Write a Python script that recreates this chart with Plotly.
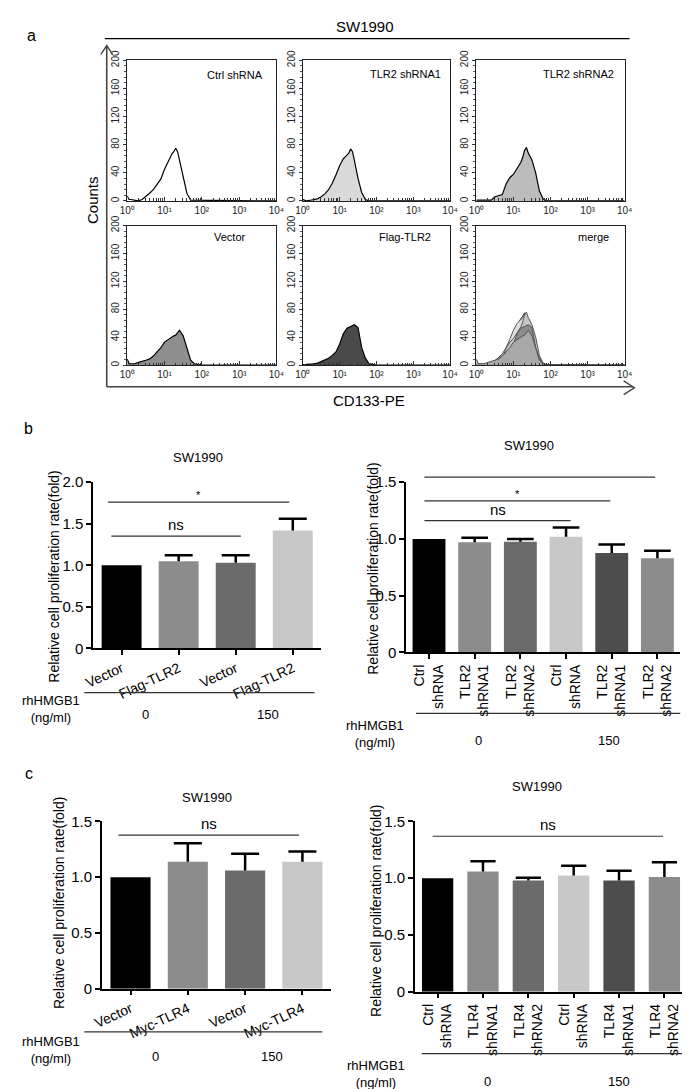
import plotly.graph_objects as go

W, H = 690, 1089
FONT = "Liberation Sans, Arial, sans-serif"

# ---------------- data: panel a (CD133-PE flow histograms) ----------------
cd133_log10 = [0.0, 0.05, 0.1, 0.2, 0.3, 0.4, 0.5, 0.6, 0.7, 0.8, 0.9, 1.0, 1.1, 1.2,
               1.25, 1.3, 1.35, 1.4, 1.5, 1.6, 1.7, 1.8, 1.9, 2.0, 2.5, 3.0, 3.5, 4.0]
counts_ctrl_shrna = [7, 2, 2, 1, 0, 2, 6, 11, 16, 23, 31, 45, 57, 67, 70, 75, 70, 58, 36, 11,
                     1, 1, 0, 1, 0, 0, 1, 0]
counts_tlr2_shrna1 = [2, 1, 0, 1, 2, 3, 6, 10, 16, 25, 37, 50, 60, 65, 68, 74, 70, 58, 32, 12,
                      2, 0, 0, 0, 0, 0, 0, 0]
counts_tlr2_shrna2 = [1, 1, 0, 1, 0, 1, 6, 7, 9, 24, 33, 38, 47, 55, 62, 72, 76, 68, 58, 40,
                      14, 3, 0, 0, 0, 0, 1, 0]
counts_vector = [9, 2, 2, 2, 4, 5, 7, 9, 13, 19, 25, 33, 37, 40, 42, 43, 46, 50, 42, 23,
                 7, 2, 1, 0, 0, 0, 0, 0]
counts_flag_tlr2 = [1, 0, 1, 1, 2, 3, 5, 7, 10, 14, 19, 30, 45, 53, 54, 55, 57, 58, 54, 25,
                    10, 2, 1, 0, 0, 0, 0, 0]
hist_names = ["Ctrl shRNA", "TLR2 shRNA1", "TLR2 shRNA2", "Vector", "Flag-TLR2", "merge"]
decade_ticks = [0, 1, 2, 3, 4]
decade_text = ["10\u2070", "10\u00b9", "10\u00b2", "10\u00b3", "10\u2074"]
count_ticks = [0, 40, 80, 120, 160, 200]

# ---------------- data: panels b and c (bar charts) ----------------
b_left_labels = ["Vector", "Flag-TLR2", "Vector", "Flag-TLR2"]
b_left_mean = [1.00, 1.05, 1.03, 1.42]
b_left_sem = [0.0, 0.07, 0.09, 0.14]

b_right_labels = ["Ctrl<br>shRNA", "TLR2<br>shRNA1", "TLR2<br>shRNA2",
                  "Ctrl<br>shRNA", "TLR2<br>shRNA1", "TLR2<br>shRNA2"]
b_right_mean = [1.00, 0.97, 0.975, 1.02, 0.875, 0.83]
b_right_sem = [0.0, 0.04, 0.025, 0.08, 0.075, 0.065]

c_left_labels = ["Vector", "Myc-TLR4", "Vector", "Myc-TLR4"]
c_left_mean = [1.00, 1.14, 1.06, 1.14]
c_left_sem = [0.0, 0.165, 0.15, 0.09]

c_right_labels = ["Ctrl<br>shRNA", "TLR4<br>shRNA1", "TLR4<br>shRNA2",
                  "Ctrl<br>shRNA", "TLR4<br>shRNA1", "TLR4<br>shRNA2"]
c_right_mean = [1.00, 1.06, 0.98, 1.025, 0.98, 1.01]
c_right_sem = [0.0, 0.09, 0.025, 0.085, 0.085, 0.13]

doses = ["0", "150"]
cell_line = "SW1990"

# significance brackets: (from bar, to bar, level, label)
b_left_sig = [(-0.24, 2.94, 1.76, "*"), (-0.18, 2.09, 1.35, "ns")]
b_right_sig = [(-0.1, 4.95, 1.544, "*"), (-0.1, 3.97, 1.336, "*"), (-0.1, 3.1, 1.162, "ns")]
c_left_sig = [(-0.21, 2.94, 1.377, "ns")]
c_right_sig = [(-0.11, 4.97, 1.37, "ns")]

# ---------------- helpers ----------------
def PX(x):
    return x / W


def PY(y):
    return 1 - y / H


fig = go.Figure()
layout = dict(width=W, height=H, autosize=False, margin=dict(l=0, r=0, t=0, b=0),
              paper_bgcolor="white", plot_bgcolor="white", showlegend=False,
              font=dict(family=FONT, color="black", size=12))
annotations = []
shapes = []


def ax_names(i):
    return ("xaxis" if i == 1 else f"xaxis{i}", "yaxis" if i == 1 else f"yaxis{i}",
            "x" if i == 1 else f"x{i}", "y" if i == 1 else f"y{i}")


def text(x, y, s, size=13, angle=0, xa="center"):
    annotations.append(dict(x=PX(x), y=PY(y), xref="paper", yref="paper", text=s,
                            showarrow=False, textangle=angle, xanchor=xa, yanchor="middle",
                            font=dict(size=size, family=FONT, color="black")))


def pline(x0, y0, x1, y1, w=1.2, color="black"):
    shapes.append(dict(type="line", xref="paper", yref="paper", x0=PX(x0), y0=PY(y0),
                       x1=PX(x1), y1=PY(y1), line=dict(color=color, width=w)))


# ---------------- panel a ----------------
hist_counts = [counts_ctrl_shrna, counts_tlr2_shrna1, counts_tlr2_shrna2,
               counts_vector, counts_flag_tlr2]
hist_fill = ["#ffffff", "#d9d9d9", "#bcbcbc", "#8e8e8e", "#4a4a4a"]
merge_fill = ["#ffffff", "#e0e0e0", "#c6c6c6", "#a8a8a8", "#8c8c8c"]
merge_order = [0, 1, 2, 4, 3]
cols_px = [(113, 266), (293, 444), (471, 623)]
rows_px = [(43, 186), (211, 353)]
label_pos = [(223, 58), (398, 57), (576, 57), (218, 223), (398, 223), (591, 223)]
xvals = [10 ** v for v in cd133_log10]
minor_vals = [k * 10 ** d for d in range(4) for k in range(2, 10)]

for p in range(6):
    i = p + 1
    xa, ya, xr, yr = ax_names(i)
    c0, c1 = cols_px[p % 3]
    r0, r1 = rows_px[p // 3]
    if p < 5:
        fig.add_trace(go.Scatter(x=xvals, y=hist_counts[p], mode="lines", fill="tozeroy",
                                 fillcolor=hist_fill[p], line=dict(color="black", width=1.2),
                                 xaxis=xr, yaxis=yr, hoverinfo="skip"))
    else:
        for k in merge_order:
            fig.add_trace(go.Scatter(x=xvals, y=hist_counts[k], mode="lines", fill="tozeroy",
                                     fillcolor=merge_fill[k],
                                     line=dict(color="#222222" if k == 0 else "#555555", width=1),
                                     xaxis=xr, yaxis=yr, hoverinfo="skip"))
    layout[xa] = dict(domain=[PX(c0), PX(c1)], anchor=yr, type="log", range=[0, 4],
                      tickmode="array", tickvals=[10 ** d for d in decade_ticks],
                      ticktext=decade_text,
                      ticks="inside", ticklen=4, tickwidth=1, tickcolor="#333",
                      minor=dict(tickmode="array", tickvals=minor_vals, ticks="inside",
                                 ticklen=2.5, tickcolor="#333", showgrid=False),
                      showline=True, linecolor="#222", linewidth=1.2, mirror=True,
                      showgrid=False, zeroline=False,
                      tickfont=dict(size=10, family=FONT, color="#222"))
    layout[ya] = dict(domain=[PY(r1), PY(r0)], anchor=xr, range=[0, 200],
                      tickmode="array", tickvals=count_ticks,
                      ticktext=[str(v) for v in count_ticks], tickangle=-90,
                      ticks="outside", ticklen=3, tickwidth=1, tickcolor="#333",
                      minor=dict(dtick=8, ticks="outside", ticklen=2, tickcolor="#555",
                                 showgrid=False),
                      showline=True, linecolor="#222", linewidth=1.2, mirror=True,
                      showgrid=False, zeroline=False,
                      tickfont=dict(size=10, family=FONT, color="#222"))
    text(label_pos[p][0], label_pos[p][1], hist_names[p], size=11)

text(15, 18, "a", size=16)
text(357, 9, cell_line, size=15)
pline(90, 21, 628, 21, w=1.3)
text(78, 185, "Counts", size=15, angle=-90)
text(361, 389, "CD133-PE", size=15)
# outer arrow frame
pline(92, 28, 92, 375, w=1.6, color="#444")
pline(92, 375, 632, 375, w=1.6, color="#444")
shapes.append(dict(type="path", xref="paper", yref="paper",
                   path=f"M{PX(86)},{PY(37)} L{PX(92)},{PY(28)} L{PX(98)},{PY(37)}",
                   line=dict(color="#444", width=1.4)))
shapes.append(dict(type="path", xref="paper", yref="paper",
                   path=f"M{PX(622)},{PY(369)} L{PX(633)},{PY(376)} L{PX(622)},{PY(383)}",
                   line=dict(color="#444", width=1.4)))

# ---------------- panels b and c ----------------
colors4 = ["#000000", "#8c8c8c", "#6b6b6b", "#c8c8c8"]
colors6 = ["#000000", "#8c8c8c", "#6b6b6b", "#c8c8c8", "#4d4d4d", "#8c8c8c"]

bar_panels = [
    dict(i=7, labels=b_left_labels, mean=b_left_mean, sem=b_left_sem, colors=colors4,
         xpx=(78, 312), ypx=(472, 641), ymax=2.0, angle=-25, width=0.7, cap=20,
         sig=b_left_sig, title_xy=(186, 447), ytitle_xy=(38, 568),
         group_line=(69, 305, 686), hm_xy=(35, 703), dose_xy=[(132, 708), (257, 708)]),
    dict(i=8, labels=b_right_labels, mean=b_right_mean, sem=b_right_sem, colors=colors6,
         xpx=(399, 680), ypx=(472, 645), ymax=1.5, angle=-90, width=0.72, cap=19,
         sig=b_right_sig, title_xy=(525, 435), ytitle_xy=(365, 560),
         group_line=(409, 680, 707), hm_xy=(367, 728), dose_xy=[(473, 735), (607, 735)]),
    dict(i=9, labels=c_left_labels, mean=c_left_mean, sem=c_left_sem, colors=colors4,
         xpx=(87, 322), ypx=(817, 987), ymax=1.5, angle=-25, width=0.7, cap=20,
         sig=c_left_sig, title_xy=(195, 793), ytitle_xy=(43, 900),
         group_line=(69, 313, 1031), hm_xy=(35, 1049), dose_xy=[(142, 1056), (261, 1056)]),
    dict(i=10, labels=c_right_labels, mean=c_right_mean, sem=c_right_sem, colors=colors6,
         xpx=(408, 687), ypx=(817, 990), ymax=1.5, angle=-90, width=0.69, cap=18,
         sig=c_right_sig, title_xy=(533, 781), ytitle_xy=(368, 908),
         group_line=(415, 687, 1053), hm_xy=(368, 1074), dose_xy=[(482, 1081), (617, 1081)]),
]

for bp in bar_panels:
    i = bp["i"]
    xa, ya, xr, yr = ax_names(i)
    n = len(bp["mean"])
    xs = list(range(n))
    fig.add_trace(go.Bar(x=xs, y=bp["mean"], width=bp["width"],
                         marker=dict(color=bp["colors"], line=dict(width=0)),
                         error_y=dict(type="data", array=bp["sem"], arrayminus=[0] * n,
                                      symmetric=False, width=0, thickness=2.5,
                                      color="black"),
                         xaxis=xr, yaxis=yr, hoverinfo="skip"))
    caps = [m + s if s > 0 else None for m, s in zip(bp["mean"], bp["sem"])]
    fig.add_trace(go.Scatter(x=xs, y=caps, mode="markers",
                             marker=dict(symbol="line-ew", size=bp["cap"],
                                         line=dict(color="black", width=2.5)),
                             xaxis=xr, yaxis=yr, hoverinfo="skip"))
    ymax = bp["ymax"]
    yt = [v * 0.5 for v in range(int(round(ymax / 0.5)) + 1)]
    layout[xa] = dict(domain=[PX(bp["xpx"][0]), PX(bp["xpx"][1])], anchor=yr,
                      range=[-0.5, n - 0.5], tickmode="array", tickvals=xs,
                      ticktext=bp["labels"], tickangle=bp["angle"],
                      ticks="outside", ticklen=5, tickwidth=1.5, tickcolor="black",
                      showline=True, linecolor="black", linewidth=1.5,
                      showgrid=False, zeroline=False,
                      tickfont=dict(size=14, family=FONT, color="black"))
    layout[ya] = dict(domain=[PY(bp["ypx"][1]), PY(bp["ypx"][0])], anchor=xr,
                      range=[0, ymax], tickmode="array", tickvals=yt,
                      ticktext=["0" if v == 0 else f"{v:.1f}" for v in yt],
                      ticks="outside", ticklen=5, tickwidth=1.5, tickcolor="black",
                      showline=True, linecolor="black", linewidth=1.5,
                      showgrid=False, zeroline=False,
                      tickfont=dict(size=15, family=FONT, color="black"))
    # significance brackets
    for (x0, x1, lev, lab) in bp["sig"]:
        shapes.append(dict(type="line", xref=xr, yref=f"{yr} domain", x0=x0, x1=x1,
                           y0=lev / ymax, y1=lev / ymax,
                           line=dict(color="#333", width=1.2)))
        annotations.append(dict(x=(x0 + x1) / 2, y=lev, xref=xr, yref=yr, text=lab,
                                showarrow=False, xanchor="center", yanchor="bottom",
                                yshift=1 if lab == "ns" else -1,
                                font=dict(size=15 if lab == "ns" else 11, family=FONT,
                                          color="black")))
    text(bp["title_xy"][0], bp["title_xy"][1], cell_line, size=13)
    text(bp["ytitle_xy"][0], bp["ytitle_xy"][1], "Relative cell proliferation rate(fold)",
         size=14, angle=-90)
    gl = bp["group_line"]
    pline(gl[0], gl[2], gl[1], gl[2], w=1.3, color="#333")
    text(bp["hm_xy"][0], bp["hm_xy"][1], "rhHMGB1<br>(ng/ml)", size=13)
    for (dx, dy), d in zip(bp["dose_xy"], doses):
        text(dx, dy, d, size=13)

text(12, 417, "b", size=16)
text(12, 768, "c", size=16)

layout["annotations"] = annotations
layout["shapes"] = shapes
fig.update_layout(**layout)
fig.write_html("out.html")
